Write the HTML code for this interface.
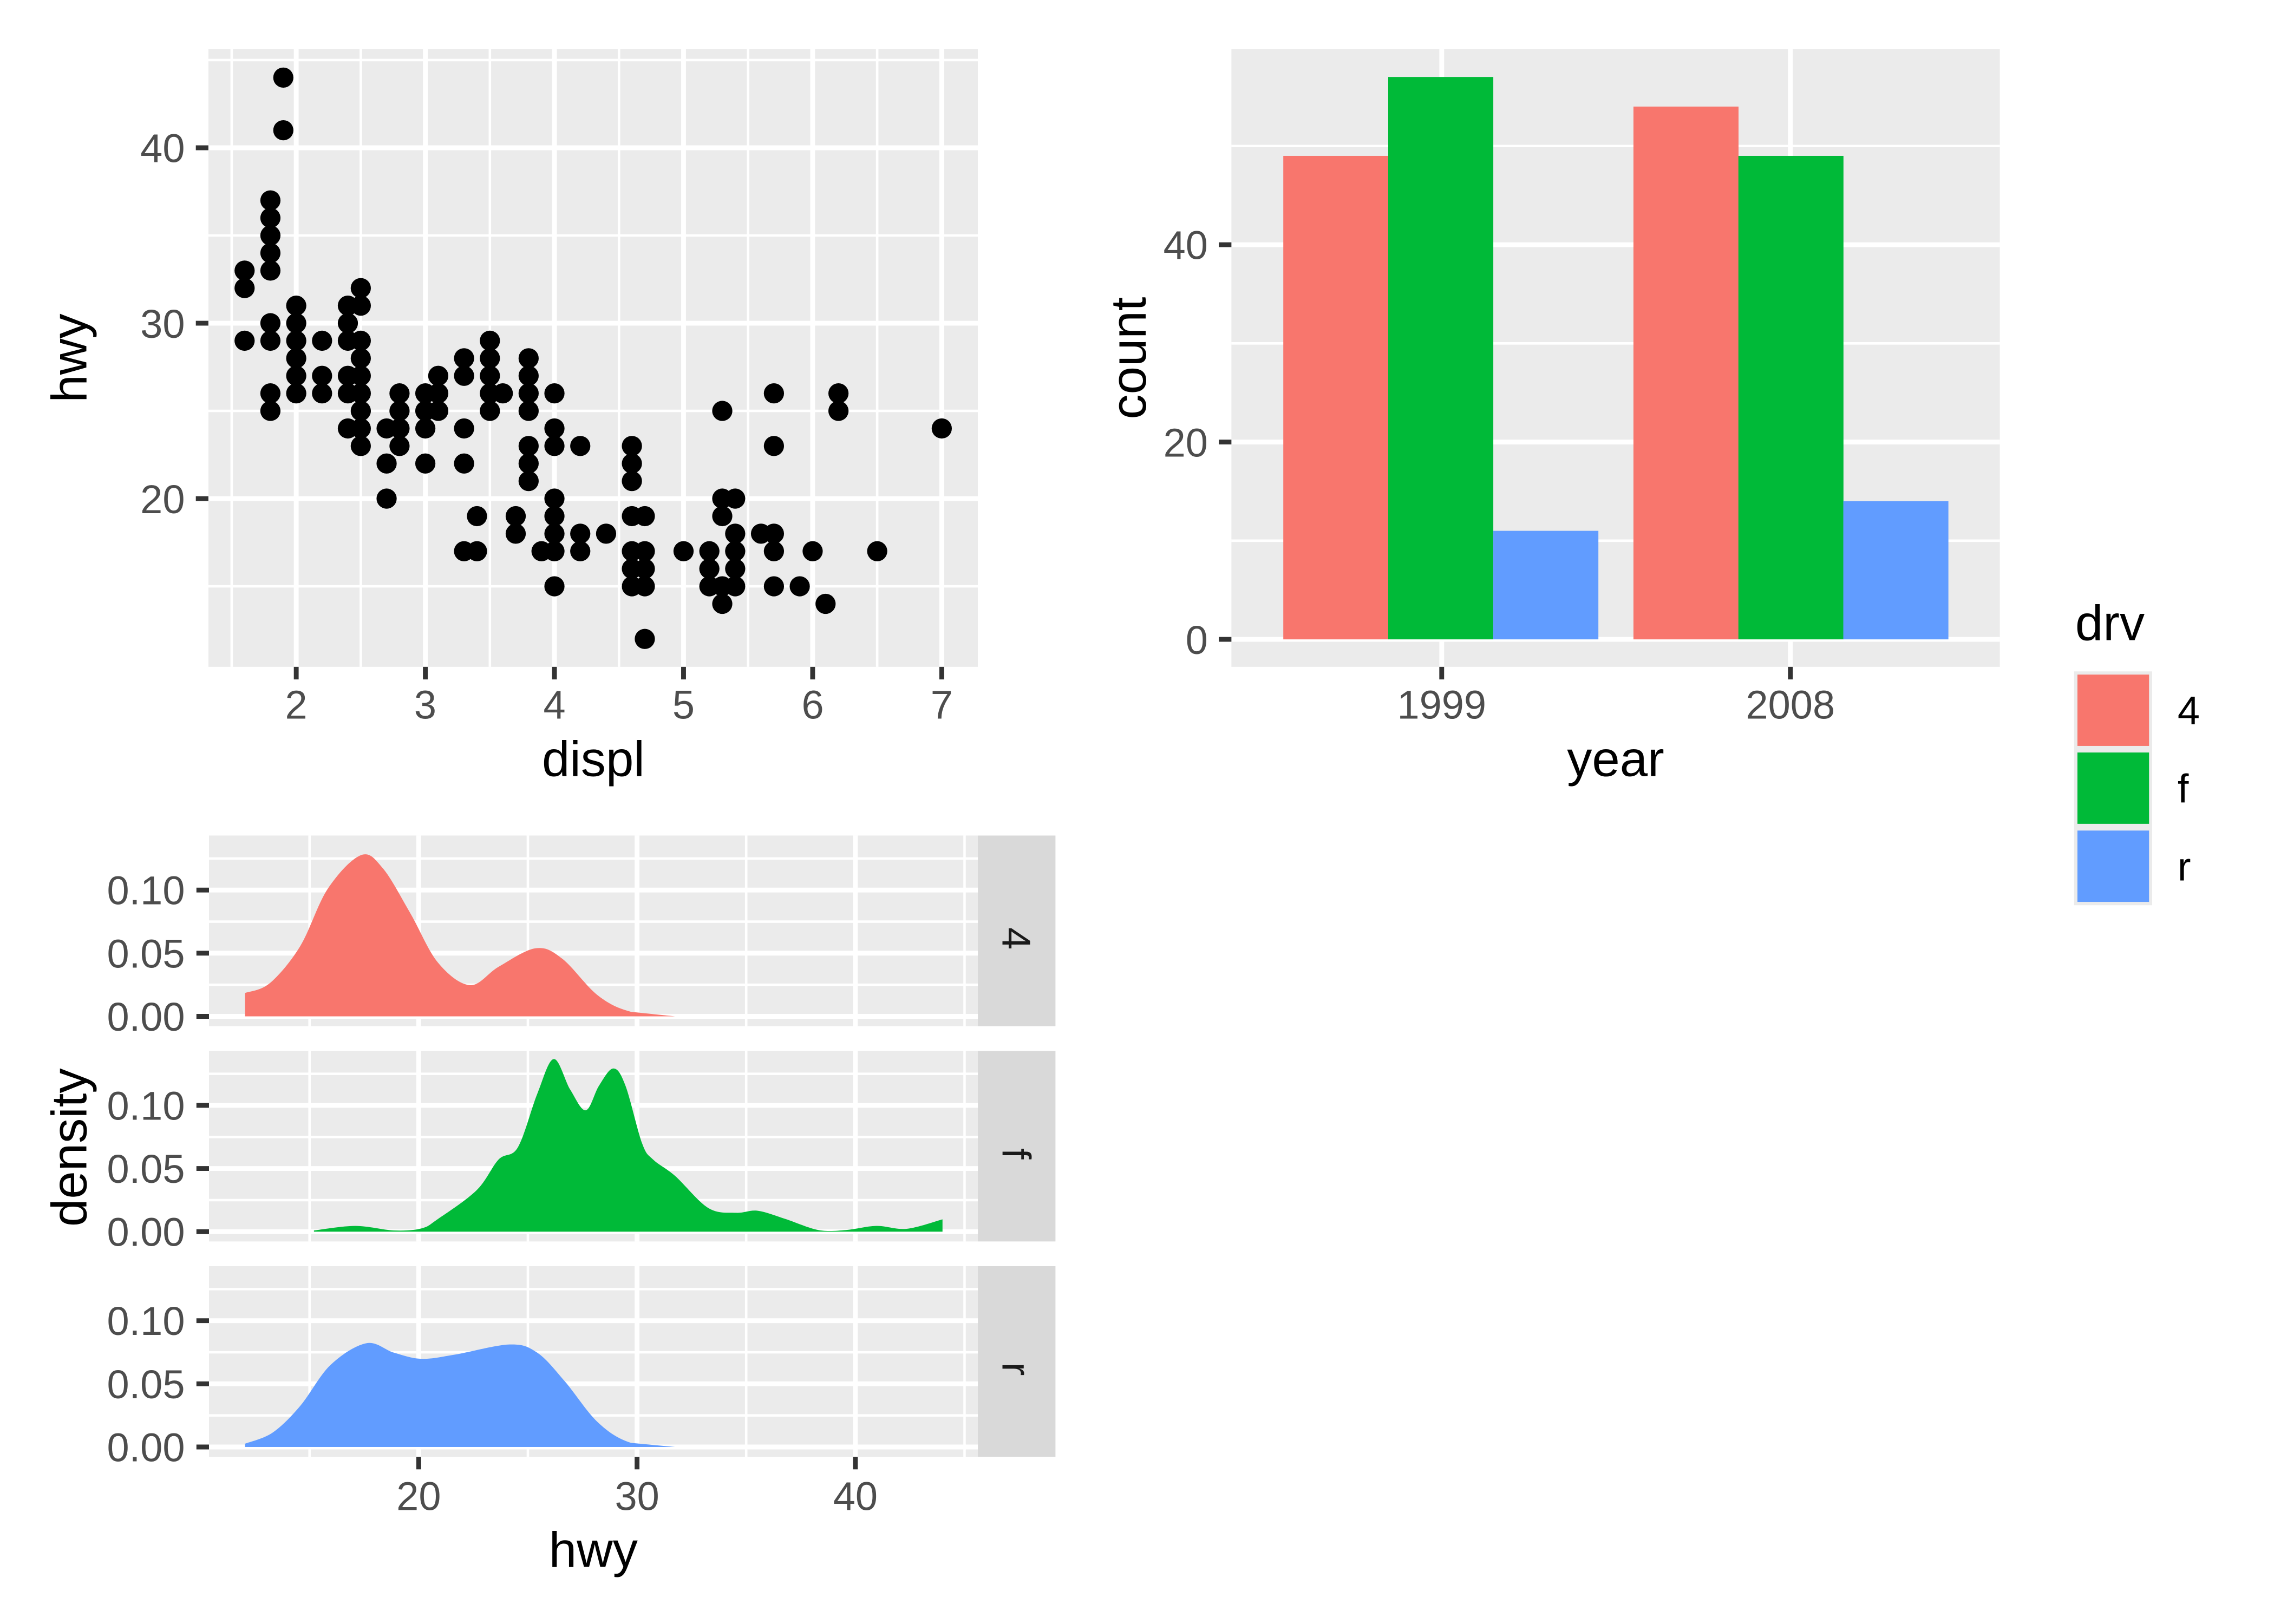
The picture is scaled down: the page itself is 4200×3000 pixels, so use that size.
<!DOCTYPE html>
<html><head><meta charset="utf-8"><style>
html,body{margin:0;padding:0;background:#fff;}
svg{display:block;}
text{font-family:"Liberation Sans",Arial,sans-serif;}
.tk{font-size:27.4px;fill:#4D4D4D;}
.tt{font-size:34.2px;fill:#000;}
</style></head><body>
<svg id="s" xmlns="http://www.w3.org/2000/svg" width="4200" height="3000" viewBox="0 0 1556 1111" preserveAspectRatio="none">
<rect width="1556" height="1111" fill="#fff"/>
<g id="g"></g>
<text class="tk" x="126.5" y="351" text-anchor="end">20</text>
<text class="tk" x="126.5" y="231" text-anchor="end">30</text>
<text class="tk" x="126.5" y="111" text-anchor="end">40</text>
<text class="tk" x="202.7" y="491.7" text-anchor="middle">2</text>
<text class="tk" x="291" y="491.7" text-anchor="middle">3</text>
<text class="tk" x="379.4" y="491.7" text-anchor="middle">4</text>
<text class="tk" x="467.7" y="491.7" text-anchor="middle">5</text>
<text class="tk" x="556.1" y="491.7" text-anchor="middle">6</text>
<text class="tk" x="644.4" y="491.7" text-anchor="middle">7</text>
<text class="tt" x="406" y="530.9" text-anchor="middle">displ</text>
<text class="tt" transform="translate(59,245) rotate(-90)" text-anchor="middle">hwy</text>
<text class="tk" x="826.5" y="447.3" text-anchor="end">0</text>
<text class="tk" x="826.5" y="312.3" text-anchor="end">20</text>
<text class="tk" x="826.5" y="177.3" text-anchor="end">40</text>
<text class="tk" x="986.5" y="491.7" text-anchor="middle">1999</text>
<text class="tk" x="1225.1" y="491.7" text-anchor="middle">2008</text>
<text class="tt" x="1105.5" y="530.9" text-anchor="middle">year</text>
<text class="tt" transform="translate(784,245) rotate(-90)" text-anchor="middle">count</text>
<text class="tt" x="1420" y="438">drv</text>
<rect x="1419.2" y="459.3" width="53.4" height="160" fill="#EBEBEB"/>
<rect x="1421.5" y="461.5" width="49" height="48.8" fill="#F8766D"/>
<rect x="1421.5" y="514.8" width="49" height="48.8" fill="#00BA38"/>
<rect x="1421.5" y="568.2" width="49" height="48.8" fill="#619CFF"/>
<text x="1490" y="495.6" style="font-size:27.4px">4</text>
<text x="1490" y="549" style="font-size:27.4px">f</text>
<text x="1490" y="602.4" style="font-size:27.4px">r</text>
<g id="dl"></g>
<text class="tk" x="286.5" y="1033" text-anchor="middle">20</text>
<text class="tk" x="435.9" y="1033" text-anchor="middle">30</text>
<text class="tk" x="585.3" y="1033" text-anchor="middle">40</text>
<text class="tt" x="406" y="1072" text-anchor="middle">hwy</text>
<text class="tt" transform="translate(59,785) rotate(-90)" text-anchor="middle">density</text>
<text transform="translate(686,642) rotate(90)" text-anchor="middle" style="font-size:27.4px;fill:#1A1A1A">4</text>
<text transform="translate(686,789.3) rotate(90)" text-anchor="middle" style="font-size:27.4px;fill:#1A1A1A">f</text>
<text transform="translate(686,936.6) rotate(90)" text-anchor="middle" style="font-size:27.4px;fill:#1A1A1A">r</text>
</svg>
<script>
var NS="http://www.w3.org/2000/svg",G=document.getElementById('g');
function el(t,a){var e=document.createElementNS(NS,t);for(var k in a)e.setAttribute(k,a[k]);G.appendChild(e);return e;}
function ln(x1,y1,x2,y2,w,c){el('line',{x1:x1,y1:y1,x2:x2,y2:y2,stroke:c||'#fff','stroke-width':w});}
var MJ=3.3,MN=1.7;
var L=142.6,R=669.1,T=33.7,B=456.2;
function sx(d){return 202.7+(d-2)*88.34;}
function sy(h){return 341.1-(h-20)*12.0;}
el('rect',{x:L,y:T,width:R-L,height:B-T,fill:'#EBEBEB'});
[15,25,35,45].forEach(function(h){ln(L,sy(h),R,sy(h),MN);});
[1.5,2.5,3.5,4.5,5.5,6.5].forEach(function(d){ln(sx(d),T,sx(d),B,MN);});
[20,30,40].forEach(function(h){ln(L,sy(h),R,sy(h),MJ);ln(L-8.6,sy(h),L,sy(h),MJ,'#333');});
[2,3,4,5,6,7].forEach(function(d){ln(sx(d),T,sx(d),B,MJ);ln(sx(d),B,sx(d),B+8.6,MJ,'#333');});
var P={1.9:[44,41],1.8:[37,36,35,34,33,30,29,26,25],1.6:[33,32,29],2.0:[31,30,29,28,27,26],2.2:[29,27,26],
2.4:[31,30,29,27,26,24],2.5:[32,31,29,28,27,26,25,24,23],2.7:[24,22,20],2.8:[26,25,24,23],3.0:[26,25,24,22],
3.1:[27,26,25],3.3:[28,27,24,22,17],3.4:[19,17],3.5:[29,28,27,26,25],3.6:[26],3.7:[19,18],3.8:[28,27,26,25,23,22,21],
3.9:[17],4.0:[26,24,23,20,19,18,17,15],4.2:[23,18,17],4.4:[18],4.6:[23,22,21,19,17,16,15],4.7:[19,17,16,15,12],
5.0:[17],5.2:[17,16,15],5.3:[25,20,19,15,14],5.4:[20,18,17,16,15],5.6:[18],5.7:[26,23,18,17,15],5.9:[15],6.0:[17],
6.1:[14],6.2:[26,25],6.5:[17],7.0:[24]};
for(var d in P)P[d].forEach(function(h){el('circle',{cx:sx(+d),cy:sy(h),r:6.9,fill:'#000'});});
var BL=842.6,BR=1368.4;
function by(c){return 437.4-c*6.75;}
el('rect',{x:BL,y:T,width:BR-BL,height:B-T,fill:'#EBEBEB'});
[10,30,50].forEach(function(c){ln(BL,by(c),BR,by(c),MN);});
[0,20,40].forEach(function(c){ln(BL,by(c),BR,by(c),MJ);ln(BL-8.6,by(c),BL,by(c),MJ,'#333');});
[986.5,1225.1].forEach(function(x){ln(x,T,x,B,MJ);ln(x,B,x,B+8.6,MJ,'#333');});
var bars=[[878.1,49,'#F8766D'],[949.9,57,'#00BA38'],[1021.8,11,'#619CFF'],[1117.7,54,'#F8766D'],[1189.5,49,'#00BA38'],[1261.3,14,'#619CFF']];
bars.forEach(function(b){el('rect',{x:b[0],y:by(b[1]),width:71.9,height:by(0)-by(b[1]),fill:b[2]});});
var DL=143,DR=669.1,SR=722.2;
function dx(h){return 286.5+(h-20)*14.94;}
function zx(x){return 20+(x-385)/39.6;}
var tops=[571.6,718.9,866.2],zeros=[695.3,842.6,989.9];
var cols=['#F8766D','#00BA38','#619CFF'];
var zdat=[
 {z:451,p:[[70,451],[70,394],[115,370],[170,280],[220,140],[280,58],[320,90],[370,200],[420,320],[478,375],[530,330],[597,285],[645,310],[710,400],[770,440],[850,451]]},
 {z:976,p:[[195,976],[195,973],[270,962],[340,973],[390,968],[420,945],[490,875],[530,800],[565,770],[600,640],[630,555],[660,630],[688,680],[712,620],[738,578],[760,620],[790,760],[810,800],[850,840],[910,918],[960,930],[1000,925],[1050,945],[1110,972],[1160,972],[1215,962],[1270,969],[1335,946],[1335,976]]},
 {z:1500,p:[[70,1500],[70,1492],[120,1465],[170,1400],[225,1300],[290,1247],[340,1270],[390,1285],[450,1275],[550,1250],[600,1270],[650,1340],[710,1440],[770,1490],[850,1500]]}];
for(var k=0;k<3;k++){
 var t=tops[k],b=t+130.4,z=zeros[k];
 var yy=(function(z){return function(v){return z-v*864;};})(z);
 el('rect',{x:DL,y:t,width:DR-DL,height:b-t,fill:'#EBEBEB'});
 el('rect',{x:DR,y:t,width:SR-DR,height:b-t,fill:'#D9D9D9'});
 [0.025,0.075,0.125].forEach(function(v){ln(DL,yy(v),DR,yy(v),MN);});
 [15,25,35,45].forEach(function(h){ln(dx(h),t,dx(h),b,MN);});
 [0,0.05,0.1].forEach(function(v){ln(DL,yy(v),DR,yy(v),MJ);ln(DL-8.6,yy(v),DL,yy(v),MJ,'#333');});
 [20,30,40].forEach(function(h){ln(dx(h),t,dx(h),b,MJ);if(k==2)ln(dx(h),b,dx(h),b+8.6,MJ,'#333');});
 var zd=zdat[k],pts=zd.p.map(function(p){return [dx(zx(p[0])),yy((zd.z-p[1])/3080)];});
 var n=pts.length,s='M'+pts[0][0].toFixed(2)+','+pts[0][1].toFixed(2)+'L'+pts[1][0].toFixed(2)+','+pts[1][1].toFixed(2);
 for(var i=1;i<n-2;i++){
  var p0=pts[i-1],p1=pts[i],p2=pts[i+1],p3=pts[i+2];
  if(i==1)p0=p1;
  if(i==n-3&&k==1)p3=p2;
  var c1=[p1[0]+(p2[0]-p0[0])/6,p1[1]+(p2[1]-p0[1])/6],c2=[p2[0]-(p3[0]-p1[0])/6,p2[1]-(p3[1]-p1[1])/6];
  s+='C'+c1[0].toFixed(2)+','+c1[1].toFixed(2)+' '+c2[0].toFixed(2)+','+c2[1].toFixed(2)+' '+p2[0].toFixed(2)+','+p2[1].toFixed(2);
 }
 s+='L'+pts[n-1][0].toFixed(2)+','+pts[n-1][1].toFixed(2)+'Z';
 el('path',{d:s,fill:cols[k]});
}
var DLG=document.getElementById('dl');
for(var k=0;k<3;k++){['0.00','0.05','0.10'].forEach(function(lab,i){
 var e=document.createElementNS(NS,'text');e.setAttribute('class','tk');e.setAttribute('x',126.5);
 e.setAttribute('y',(zeros[k]-i*43.2+9.8).toFixed(1));e.setAttribute('text-anchor','end');e.textContent=lab;DLG.appendChild(e);});}
</script>
</body></html>
